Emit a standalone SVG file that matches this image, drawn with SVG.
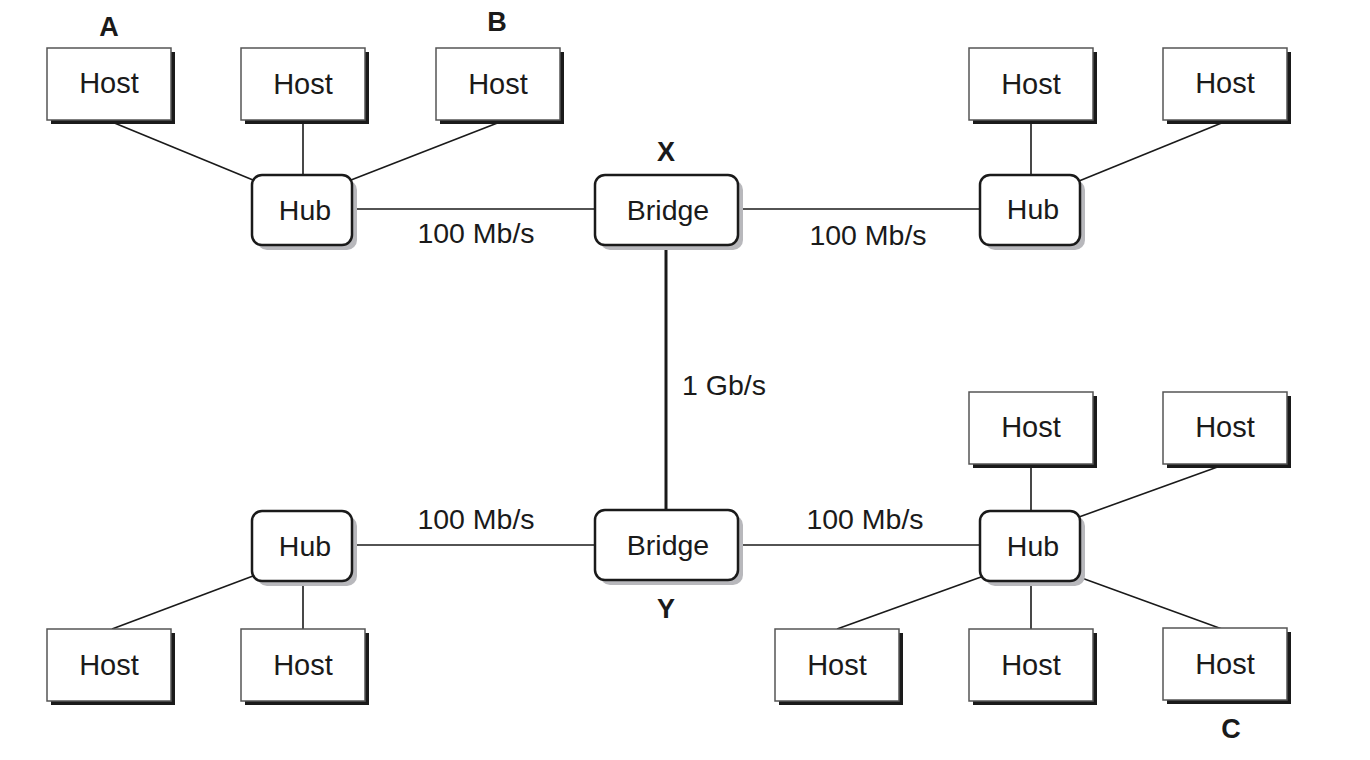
<svg xmlns="http://www.w3.org/2000/svg" width="1370" height="760" viewBox="0 0 1370 760">
<defs>
<style>
.hs{fill:#1a1a1a}
.hb{fill:#fff;stroke:#555;stroke-width:1.5}
.ns{fill:#b8b8bc}
.nb{fill:#fff;stroke:#1a1a1a;stroke-width:2.5}
.t{font-family:"Liberation Sans",Arial,sans-serif;font-size:28.5px;fill:#1a1a1a;text-anchor:middle}
.h{font-size:29px}
.lb{font-family:"Liberation Sans",Arial,sans-serif;font-size:27px;font-weight:bold;fill:#1a1a1a;text-anchor:middle}
.c{stroke:#1a1a1a;stroke-width:1.6;fill:none}
.ct{stroke:#1a1a1a;stroke-width:3;fill:none}
</style>
</defs>
<rect width="1370" height="760" fill="#fff"/>
<g id="connectors">
<line class="c" x1="112" y1="122" x2="253" y2="180"/>
<line class="c" x1="303" y1="122" x2="303" y2="176"/>
<line class="c" x1="500" y1="122" x2="351" y2="180"/>
<line class="c" x1="352" y1="209" x2="596" y2="209"/>
<line class="c" x1="737" y1="209" x2="981" y2="209"/>
<line class="c" x1="1031" y1="122" x2="1031" y2="176"/>
<line class="c" x1="1224" y1="122" x2="1079" y2="181"/>
<line class="ct" x1="666" y1="245" x2="666" y2="511"/>
<line class="c" x1="352" y1="545" x2="596" y2="545"/>
<line class="c" x1="737" y1="545" x2="981" y2="545"/>
<line class="c" x1="253" y1="576" x2="112" y2="629"/>
<line class="c" x1="303" y1="580" x2="303" y2="629"/>
<line class="c" x1="1031" y1="465" x2="1031" y2="512"/>
<line class="c" x1="1223" y1="465" x2="1079" y2="517"/>
<line class="c" x1="981" y1="577" x2="837" y2="629"/>
<line class="c" x1="1031" y1="580" x2="1031" y2="629"/>
<line class="c" x1="1079" y1="577" x2="1222" y2="629"/>
</g>
<g id="hostA">
<rect class="hs" x="51" y="52" width="124" height="72"/>
<rect class="hb" x="47" y="48" width="124" height="72"/>
<text class="t h" x="109" y="93">Host</text>
</g>
<g id="host2">
<rect class="hs" x="245" y="52" width="124" height="72"/>
<rect class="hb" x="241" y="48" width="124" height="72"/>
<text class="t h" x="303" y="94">Host</text>
</g>
<g id="hostB">
<rect class="hs" x="440" y="52" width="124" height="72"/>
<rect class="hb" x="436" y="48" width="124" height="72"/>
<text class="t h" x="498" y="94">Host</text>
</g>
<g id="host4">
<rect class="hs" x="973" y="52" width="124" height="72"/>
<rect class="hb" x="969" y="48" width="124" height="72"/>
<text class="t h" x="1031" y="94">Host</text>
</g>
<g id="host5">
<rect class="hs" x="1167" y="52" width="124" height="72"/>
<rect class="hb" x="1163" y="48" width="124" height="72"/>
<text class="t h" x="1225" y="93">Host</text>
</g>
<g id="host6">
<rect class="hs" x="973" y="396" width="124" height="72"/>
<rect class="hb" x="969" y="392" width="124" height="72"/>
<text class="t h" x="1031" y="437">Host</text>
</g>
<g id="host7">
<rect class="hs" x="1167" y="396" width="124" height="72"/>
<rect class="hb" x="1163" y="392" width="124" height="72"/>
<text class="t h" x="1225" y="437">Host</text>
</g>
<g id="host8">
<rect class="hs" x="51" y="633" width="124" height="72"/>
<rect class="hb" x="47" y="629" width="124" height="72"/>
<text class="t h" x="109" y="675">Host</text>
</g>
<g id="host9">
<rect class="hs" x="245" y="633" width="124" height="72"/>
<rect class="hb" x="241" y="629" width="124" height="72"/>
<text class="t h" x="303" y="675">Host</text>
</g>
<g id="host10">
<rect class="hs" x="779" y="633" width="124" height="72"/>
<rect class="hb" x="775" y="629" width="124" height="72"/>
<text class="t h" x="837" y="675">Host</text>
</g>
<g id="host11">
<rect class="hs" x="973" y="633" width="124" height="72"/>
<rect class="hb" x="969" y="629" width="124" height="72"/>
<text class="t h" x="1031" y="675">Host</text>
</g>
<g id="hostC">
<rect class="hs" x="1167" y="632" width="124" height="72"/>
<rect class="hb" x="1163" y="628" width="124" height="72"/>
<text class="t h" x="1225" y="674">Host</text>
</g>
<g id="hub1">
<rect class="ns" x="257" y="180" width="100" height="70" rx="10"/>
<rect class="nb" x="252" y="175" width="100" height="70" rx="10"/>
<text class="t" x="305" y="220">Hub</text>
</g>
<g id="hub2">
<rect class="ns" x="985" y="180" width="100" height="70" rx="10"/>
<rect class="nb" x="980" y="175" width="100" height="70" rx="10"/>
<text class="t" x="1033" y="219">Hub</text>
</g>
<g id="hub3">
<rect class="ns" x="257" y="516" width="100" height="70" rx="10"/>
<rect class="nb" x="252" y="511" width="100" height="70" rx="10"/>
<text class="t" x="305" y="556">Hub</text>
</g>
<g id="hub4">
<rect class="ns" x="985" y="516" width="100" height="70" rx="10"/>
<rect class="nb" x="980" y="511" width="100" height="70" rx="10"/>
<text class="t" x="1033" y="556">Hub</text>
</g>
<g id="bridgeX">
<rect class="ns" x="600" y="180" width="143" height="70" rx="10"/>
<rect class="nb" x="595" y="175" width="143" height="70" rx="10"/>
<text class="t" x="668" y="220">Bridge</text>
</g>
<g id="bridgeY">
<rect class="ns" x="600" y="515" width="143" height="70" rx="10"/>
<rect class="nb" x="595" y="510" width="143" height="70" rx="10"/>
<text class="t" x="668" y="555">Bridge</text>
</g>
<g id="labels">
<text class="lb" x="109" y="36">A</text>
<text class="lb" x="497" y="31">B</text>
<text class="lb" x="666" y="161">X</text>
<text class="lb" x="666" y="618">Y</text>
<text class="lb" x="1231" y="738">C</text>
<text class="t" x="476" y="243">100 Mb/s</text>
<text class="t" x="868" y="245">100 Mb/s</text>
<text class="t" x="476" y="529">100 Mb/s</text>
<text class="t" x="865" y="529">100 Mb/s</text>
<text class="t" x="724" y="395">1 Gb/s</text>
</g>
</svg>
